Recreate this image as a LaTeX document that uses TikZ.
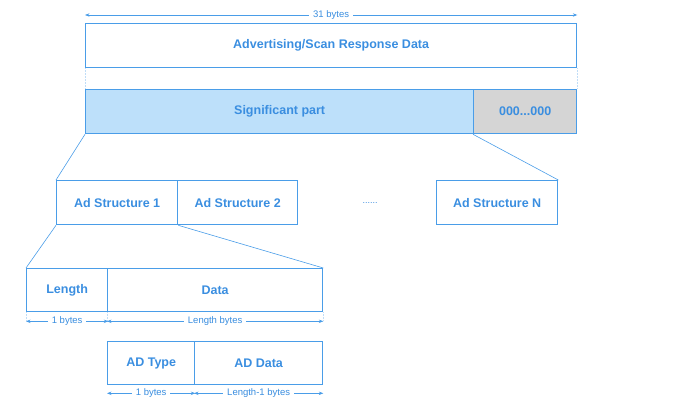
\documentclass[tikz,border=0pt]{standalone}
\usepackage{fontspec}
\setmainfont{Liberation Sans}
\usetikzlibrary{arrows.meta}
\definecolor{bl}{HTML}{4A9DE8}
\definecolor{bltxt}{HTML}{3A8EE0}
\definecolor{blfill}{HTML}{BDE0FA}
\definecolor{gr}{HTML}{D5D5D5}
\begin{document}
\begin{tikzpicture}[x=1pt,y=-1pt,
  box/.style={draw=bl,line width=1.3pt,inner sep=0pt,anchor=north west,text=bltxt,font=\bfseries\fontsize{12.5}{14}\selectfont},
  conn/.style={draw=bl,line width=0.6pt},
  ext/.style={draw=bl!35,line width=0.5pt,densely dotted},
  dim/.style={draw=bl,line width=0.6pt,{Stealth[length=4.5pt,width=3.4pt]}-{Stealth[length=4.5pt,width=3.4pt]}},
  dlab/.style={fill=white,text=bltxt,inner xsep=4pt,inner ysep=1.5pt,font=\fontsize{9.5}{10}\selectfont}]
\useasboundingbox (0,0) rectangle (686,404);
% top
\node[box,minimum width=491pt,minimum height=44pt] (adv) at (85,23) {Advertising/Scan Response Data};
\node[box,fill=blfill,minimum width=388pt,minimum height=44pt] (sig) at (85,89) {Significant part};
\node[box,fill=gr,minimum width=103pt,minimum height=44pt] (zero) at (473,89) {000...000};
\draw[ext] (adv.south west) -- (sig.north west);
\draw[ext] (adv.south east) -- (zero.north east);
\draw[dim] ([yshift=8pt]adv.north west) -- node[dlab]{31 bytes} ([yshift=8pt]adv.north east);
% ad structures
\node[box,minimum width=121pt,minimum height=44pt] (ad1) at (56,180) {Ad Structure 1};
\node[box,minimum width=120pt,minimum height=44pt] (ad2) at (177,180) {Ad Structure 2};
\node[text=bltxt,font=\fontsize{9}{10}\selectfont] (dots) at (370,203) {......};
\node[box,minimum width=121pt,minimum height=44pt] (adN) at (436,180) {Ad Structure N};
\draw[conn] (sig.south west) -- (ad1.north west);
\draw[conn] (zero.south west) -- (adN.north east);
% length/data
\node[box,minimum width=81pt,minimum height=43pt] (len) at (26,268) {Length};
\node[box,minimum width=215pt,minimum height=43pt] (data) at (107,268) {Data};
\draw[conn] (ad1.south west) -- (len.north west);
\draw[conn] (ad1.south east) -- (data.north east);
\draw[ext] (len.south west) -- ([yshift=-9pt]len.south west);
\draw[ext] (data.south west) -- ([yshift=-9pt]data.south west);
\draw[ext] (data.south east) -- ([yshift=-9pt]data.south east);
\draw[dim] ([yshift=-9pt]len.south west) -- node[dlab]{1 bytes} ([yshift=-9pt]len.south east);
\draw[dim] ([yshift=-9pt]data.south west) -- node[dlab]{Length bytes} ([yshift=-9pt]data.south east);
% AD type/data
\node[box,minimum width=87pt,minimum height=43pt] (adt) at (107,341) {AD Type};
\node[box,minimum width=128pt,minimum height=43pt] (add) at (194,341) {AD Data};
\draw[dim] ([yshift=-8pt]adt.south west) -- node[dlab]{1 bytes} ([yshift=-8pt]adt.south east);
\draw[dim] ([yshift=-8pt]add.south west) -- node[dlab]{Length-1 bytes} ([yshift=-8pt]add.south east);
\end{tikzpicture}
\end{document}
